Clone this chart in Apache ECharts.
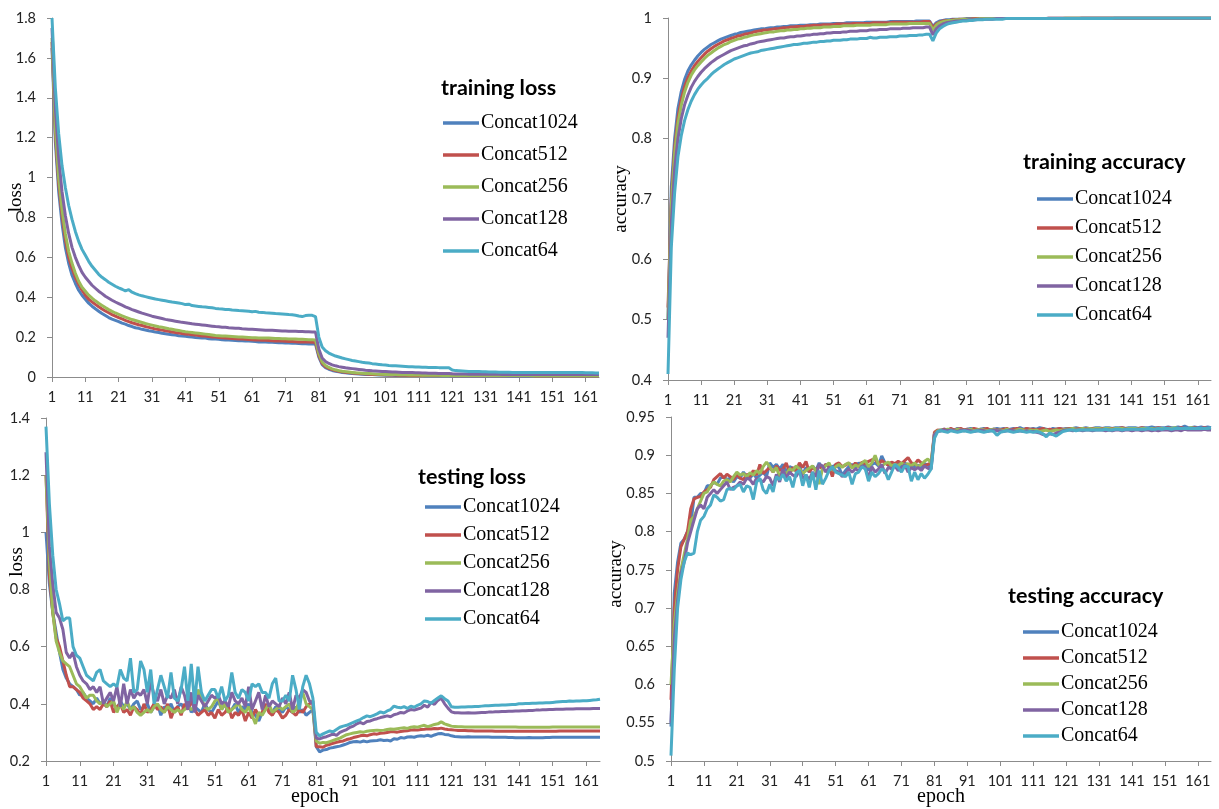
<!DOCTYPE html>
<html>
<head>
<meta charset="utf-8">
<script src="https://cdn.jsdelivr.net/npm/echarts@6/dist/echarts.min.js"></script>
<style>
  html, body { margin: 0; padding: 0; background: #ffffff; }
  #chart { width: 1219px; height: 809px; }
</style>
</head>
<body>
<div id="chart"></div>
<script>
// Epoch categories 1..165 shared by all four panels
const epochs = Array.from({ length: 165 }, (_, i) => String(i + 1));
const seriesNames = ['Concat1024', 'Concat512', 'Concat256', 'Concat128', 'Concat64'];
const panelTitles = ['training loss', 'training accuracy', 'testing loss', 'testing accuracy'];
const yAxisNames = ['loss', 'accuracy', 'loss', 'accuracy'];
const yRanges = [[0, 1.8, 0.2], [0.4, 1, 0.1], [0.2, 1.4, 0.2], [0.5, 0.95, 0.05]];

// ---- training loss ----
const trainLoss1024 = [
1.65,1.18,0.93,0.77,0.65,0.57,0.51,0.47,0.435,0.41,
0.39,0.37,0.355,0.342,0.33,0.318,0.308,0.298,0.29,0.284,
0.278,0.27,0.265,0.258,0.253,0.247,0.244,0.239,0.236,0.232,
0.229,0.225,0.223,0.219,0.217,0.214,0.212,0.21,0.207,0.206,
0.204,0.202,0.2,0.198,0.197,0.195,0.195,0.192,0.191,0.19,
0.189,0.187,0.186,0.186,0.184,0.183,0.182,0.182,0.18,0.18,
0.179,0.178,0.176,0.177,0.175,0.174,0.174,0.173,0.172,0.172,
0.171,0.17,0.169,0.169,0.168,0.167,0.167,0.166,0.165,0.165,
0.1,0.062,0.047,0.039,0.033,0.029,0.026,0.023,0.021,0.019,
0.018,0.016,0.015,0.014,0.013,0.012,0.012,0.011,0.01,0.01,
0.009,0.009,0.009,0.008,0.008,0.008,0.008,0.007,0.007,0.007,
0.007,0.007,0.006,0.006,0.006,0.006,0.006,0.006,0.006,0.006,
0.005,0.005,0.005,0.005,0.005,0.005,0.005,0.005,0.005,0.005,
0.005,0.005,0.005,0.005,0.005,0.005,0.005,0.004,0.004,0.004,
0.004,0.004,0.004,0.004,0.004,0.004,0.004,0.004,0.004,0.004,
0.004,0.004,0.004,0.004,0.004,0.004,0.004,0.004,0.004,0.004,
0.004,0.004,0.004,0.004,0.004];
const trainLoss512 = [
1.68,1.22,0.97,0.81,0.69,0.6,0.545,0.5,0.465,0.435,
0.41,0.39,0.377,0.364,0.352,0.341,0.331,0.322,0.313,0.305,
0.298,0.291,0.284,0.278,0.272,0.267,0.262,0.258,0.253,0.249,
0.245,0.241,0.238,0.235,0.232,0.229,0.226,0.223,0.221,0.218,
0.216,0.214,0.212,0.21,0.208,0.206,0.205,0.203,0.201,0.2,
0.198,0.197,0.196,0.194,0.193,0.192,0.191,0.19,0.189,0.188,
0.187,0.186,0.185,0.184,0.184,0.183,0.182,0.181,0.18,0.18,
0.179,0.178,0.178,0.177,0.176,0.176,0.175,0.175,0.174,0.174,
0.108,0.068,0.052,0.043,0.037,0.032,0.029,0.026,0.024,0.022,
0.02,0.019,0.017,0.016,0.015,0.014,0.013,0.013,0.012,0.011,
0.011,0.01,0.01,0.01,0.009,0.009,0.009,0.008,0.008,0.008,
0.008,0.008,0.007,0.007,0.007,0.007,0.007,0.007,0.007,0.007,
0.006,0.006,0.006,0.006,0.006,0.006,0.006,0.006,0.006,0.006,
0.006,0.006,0.006,0.006,0.006,0.006,0.006,0.006,0.006,0.006,
0.006,0.006,0.006,0.006,0.006,0.005,0.005,0.005,0.005,0.005,
0.005,0.005,0.005,0.005,0.005,0.005,0.005,0.005,0.005,0.005,
0.005,0.005,0.005,0.005,0.005];
const trainLoss256 = [
1.7,1.25,1.0,0.84,0.72,0.63,0.57,0.52,0.48,0.45,
0.43,0.41,0.395,0.382,0.37,0.359,0.348,0.338,0.329,0.321,
0.314,0.307,0.3,0.294,0.288,0.283,0.278,0.273,0.268,0.264,
0.26,0.256,0.252,0.249,0.246,0.242,0.239,0.236,0.233,0.23,
0.227,0.225,0.223,0.221,0.219,0.217,0.215,0.213,0.211,0.208,
0.207,0.206,0.205,0.204,0.203,0.202,0.201,0.2,0.199,0.198,
0.197,0.197,0.196,0.196,0.195,0.195,0.194,0.193,0.193,0.192,
0.192,0.191,0.19,0.19,0.189,0.189,0.188,0.187,0.187,0.186,
0.118,0.075,0.058,0.048,0.041,0.036,0.032,0.029,0.027,0.025,
0.023,0.021,0.02,0.019,0.018,0.017,0.016,0.015,0.014,0.014,
0.013,0.013,0.012,0.012,0.011,0.011,0.011,0.01,0.01,0.01,
0.01,0.009,0.009,0.009,0.009,0.009,0.009,0.008,0.008,0.008,
0.007,0.007,0.007,0.007,0.007,0.007,0.007,0.007,0.007,0.007,
0.007,0.007,0.007,0.007,0.007,0.007,0.007,0.007,0.007,0.007,
0.007,0.007,0.007,0.007,0.006,0.006,0.006,0.006,0.006,0.006,
0.006,0.006,0.006,0.006,0.006,0.006,0.006,0.006,0.006,0.006,
0.006,0.006,0.006,0.006,0.006];
const trainLoss128 = [
1.75,1.35,1.1,0.93,0.81,0.72,0.65,0.6,0.56,0.525,
0.5,0.48,0.46,0.445,0.43,0.418,0.405,0.395,0.385,0.376,
0.368,0.36,0.352,0.345,0.338,0.332,0.326,0.32,0.315,0.31,
0.305,0.301,0.297,0.293,0.289,0.286,0.283,0.28,0.277,0.274,
0.272,0.27,0.267,0.265,0.263,0.261,0.259,0.257,0.255,0.253,
0.252,0.25,0.249,0.247,0.246,0.245,0.244,0.242,0.241,0.24,
0.239,0.238,0.237,0.236,0.235,0.234,0.234,0.233,0.232,0.231,
0.231,0.23,0.229,0.229,0.228,0.228,0.227,0.227,0.226,0.226,
0.14,0.095,0.078,0.068,0.061,0.056,0.052,0.049,0.046,0.044,
0.042,0.04,0.038,0.036,0.034,0.033,0.031,0.03,0.029,0.028,
0.027,0.026,0.025,0.025,0.024,0.023,0.023,0.022,0.022,0.021,
0.021,0.02,0.02,0.019,0.019,0.019,0.018,0.018,0.018,0.018,
0.016,0.015,0.015,0.015,0.015,0.014,0.014,0.014,0.014,0.014,
0.014,0.014,0.014,0.014,0.014,0.013,0.013,0.013,0.013,0.013,
0.013,0.013,0.013,0.013,0.013,0.013,0.013,0.013,0.013,0.013,
0.013,0.013,0.012,0.012,0.012,0.012,0.012,0.012,0.012,0.012,
0.012,0.012,0.012,0.012,0.012];
const trainLoss64 = [
1.8,1.45,1.22,1.06,0.95,0.86,0.79,0.73,0.68,0.64,
0.61,0.58,0.555,0.535,0.515,0.5,0.488,0.475,0.465,0.455,
0.447,0.44,0.432,0.438,0.425,0.418,0.412,0.407,0.403,0.399,
0.395,0.391,0.388,0.385,0.382,0.379,0.376,0.374,0.371,0.368,
0.363,0.365,0.358,0.356,0.354,0.352,0.351,0.349,0.347,0.344,
0.342,0.341,0.339,0.338,0.336,0.335,0.333,0.332,0.331,0.33,
0.327,0.329,0.325,0.324,0.322,0.321,0.32,0.318,0.317,0.316,
0.315,0.313,0.312,0.31,0.306,0.303,0.308,0.31,0.309,0.303,
0.2,0.15,0.132,0.12,0.112,0.105,0.1,0.095,0.091,0.087,
0.083,0.08,0.077,0.074,0.072,0.07,0.067,0.065,0.063,0.061,
0.06,0.058,0.057,0.056,0.055,0.054,0.053,0.052,0.051,0.05,
0.05,0.049,0.049,0.048,0.048,0.048,0.047,0.047,0.047,0.046,
0.035,0.032,0.031,0.03,0.029,0.028,0.028,0.027,0.027,0.026,
0.026,0.025,0.025,0.025,0.024,0.024,0.024,0.024,0.023,0.023,
0.023,0.023,0.023,0.023,0.023,0.022,0.022,0.022,0.022,0.022,
0.022,0.022,0.022,0.022,0.022,0.022,0.022,0.022,0.022,0.022,
0.021,0.021,0.021,0.02,0.02];

// ---- training accuracy ----
const trainAcc1024 = [
0.5,0.72,0.8,0.85,0.878,0.898,0.912,0.922,0.93,0.937,
0.943,0.948,0.952,0.956,0.959,0.962,0.965,0.967,0.969,0.971,
0.973,0.974,0.976,0.977,0.978,0.979,0.98,0.981,0.982,0.982,
0.983,0.984,0.984,0.985,0.985,0.986,0.986,0.987,0.987,0.987,
0.988,0.988,0.988,0.989,0.989,0.989,0.99,0.99,0.99,0.99,
0.991,0.991,0.991,0.991,0.992,0.992,0.992,0.992,0.992,0.992,
0.993,0.993,0.993,0.993,0.993,0.993,0.993,0.994,0.994,0.994,
0.994,0.994,0.994,0.994,0.994,0.995,0.995,0.995,0.995,0.995,
0.986,0.992,0.995,0.996,0.997,0.997,0.998,0.998,0.998,0.998,
0.999,0.999,0.999,0.999,0.999,0.999,0.999,0.999,0.999,0.999,
0.999,0.999,0.999,0.999,0.999,0.999,0.999,0.999,0.999,0.999,
0.999,0.999,0.999,0.999,0.999,1,1,1,1,1,
1,1,1,1,1,1,1,1,1,1,
1,1,1,1,1,1,1,1,1,1,
1,1,1,1,1,1,1,1,1,1,
1,1,1,1,1,1,1,1,1,1,
1,1,1,1,1];
const trainAcc512 = [
0.52,0.7,0.785,0.835,0.865,0.886,0.901,0.912,0.921,0.928,
0.934,0.94,0.945,0.949,0.953,0.956,0.959,0.962,0.964,0.966,
0.968,0.97,0.971,0.973,0.974,0.975,0.977,0.978,0.979,0.98,
0.98,0.981,0.982,0.982,0.983,0.984,0.984,0.985,0.985,0.986,
0.986,0.986,0.987,0.987,0.988,0.988,0.988,0.989,0.989,0.989,
0.989,0.99,0.99,0.99,0.99,0.99,0.991,0.991,0.991,0.991,
0.991,0.991,0.992,0.992,0.992,0.992,0.992,0.992,0.993,0.993,
0.993,0.993,0.993,0.993,0.993,0.993,0.993,0.994,0.994,0.994,
0.984,0.99,0.993,0.995,0.996,0.996,0.997,0.997,0.998,0.998,
0.998,0.998,0.999,0.999,0.999,0.999,0.999,0.999,0.999,0.999,
0.999,0.999,0.999,0.999,0.999,0.999,0.999,0.999,0.999,0.999,
0.999,0.999,0.999,0.999,0.999,1,1,1,1,1,
1,1,1,1,1,1,1,1,1,1,
1,1,1,1,1,1,1,1,1,1,
1,1,1,1,1,1,1,1,1,1,
1,1,1,1,1,1,1,1,1,1,
1,1,1,1,1];
const trainAcc256 = [
0.5,0.69,0.775,0.825,0.855,0.877,0.893,0.905,0.914,0.921,
0.927,0.933,0.938,0.942,0.946,0.95,0.953,0.956,0.958,0.961,
0.963,0.965,0.966,0.968,0.969,0.971,0.972,0.973,0.974,0.975,
0.976,0.977,0.977,0.978,0.979,0.979,0.98,0.98,0.981,0.981,
0.982,0.982,0.983,0.983,0.984,0.984,0.984,0.985,0.985,0.985,
0.986,0.986,0.986,0.987,0.987,0.987,0.987,0.988,0.988,0.988,
0.988,0.988,0.989,0.989,0.989,0.989,0.989,0.99,0.99,0.99,
0.99,0.99,0.99,0.991,0.991,0.991,0.991,0.991,0.991,0.991,
0.98,0.988,0.992,0.994,0.995,0.996,0.996,0.997,0.997,0.998,
0.998,0.998,0.998,0.998,0.999,0.999,0.999,0.999,0.999,0.999,
0.999,0.999,0.999,0.999,0.999,0.999,0.999,0.999,0.999,0.999,
0.999,0.999,0.999,0.999,0.999,0.999,0.999,0.999,0.999,0.999,
1,1,1,1,1,1,1,1,1,1,
1,1,1,1,1,1,1,1,1,1,
1,1,1,1,1,1,1,1,1,1,
1,1,1,1,1,1,1,1,1,1,
1,1,1,1,1];
const trainAcc128 = [
0.47,0.66,0.75,0.8,0.833,0.856,0.872,0.885,0.895,0.903,
0.91,0.916,0.921,0.926,0.93,0.934,0.937,0.94,0.943,0.946,
0.948,0.95,0.952,0.954,0.955,0.957,0.958,0.96,0.961,0.962,
0.963,0.964,0.965,0.966,0.967,0.967,0.968,0.969,0.969,0.97,
0.97,0.971,0.972,0.972,0.973,0.973,0.974,0.974,0.975,0.975,
0.976,0.976,0.976,0.977,0.977,0.978,0.978,0.978,0.979,0.979,
0.979,0.98,0.98,0.98,0.981,0.981,0.981,0.982,0.982,0.982,
0.982,0.983,0.983,0.983,0.984,0.984,0.984,0.984,0.985,0.985,
0.972,0.982,0.987,0.99,0.992,0.993,0.994,0.995,0.995,0.996,
0.996,0.997,0.997,0.997,0.998,0.998,0.998,0.998,0.998,0.999,
0.999,0.999,0.999,0.999,0.999,0.999,0.999,0.999,0.999,0.999,
0.999,0.999,0.999,0.999,0.999,0.999,0.999,0.999,0.999,0.999,
0.999,0.999,0.999,0.999,0.999,1,1,1,1,1,
1,1,1,1,1,1,1,1,1,1,
1,1,1,1,1,1,1,1,1,1,
1,1,1,1,1,1,1,1,1,1,
1,1,1,1,1];
const trainAcc64 = [
0.41,0.62,0.71,0.77,0.805,0.83,0.848,0.862,0.873,0.882,
0.889,0.895,0.9,0.906,0.911,0.915,0.919,0.923,0.926,0.929,
0.932,0.934,0.936,0.938,0.94,0.942,0.943,0.944,0.946,0.947,
0.948,0.949,0.95,0.951,0.952,0.953,0.954,0.955,0.956,0.956,
0.957,0.958,0.958,0.959,0.96,0.96,0.961,0.961,0.962,0.962,
0.963,0.963,0.963,0.964,0.964,0.965,0.965,0.965,0.966,0.966,
0.966,0.968,0.967,0.967,0.968,0.968,0.968,0.969,0.969,0.969,
0.97,0.97,0.97,0.971,0.971,0.971,0.972,0.972,0.973,0.973,
0.962,0.975,0.982,0.986,0.989,0.991,0.992,0.993,0.994,0.995,
0.995,0.996,0.996,0.997,0.997,0.997,0.998,0.998,0.998,0.998,
0.998,0.998,0.999,0.999,0.999,0.999,0.999,0.999,0.999,0.999,
0.999,0.999,0.999,0.999,0.999,0.999,0.999,0.999,0.999,0.999,
0.999,0.999,0.999,0.999,0.999,0.999,0.999,0.999,0.999,0.999,
0.999,0.999,0.999,0.999,0.999,1,1,1,1,1,
1,1,1,1,1,1,1,1,1,1,
1,1,1,1,1,1,1,1,1,1,
1,1,1,1,1];

// ---- testing loss ----
const testLoss1024 = [
1.0,0.82,0.72,0.65,0.58,0.52,0.49,0.47,0.46,0.45,
0.43,0.44,0.42,0.41,0.4,0.42,0.4,0.41,0.39,0.42,
0.4,0.38,0.41,0.39,0.4,0.38,0.4,0.41,0.38,0.39,
0.4,0.37,0.39,0.4,0.36,0.39,0.38,0.4,0.37,0.39,
0.4,0.38,0.41,0.37,0.39,0.38,0.37,0.4,0.38,0.37,
0.39,0.41,0.38,0.4,0.37,0.38,0.4,0.37,0.39,0.38,
0.4,0.37,0.36,0.34,0.37,0.39,0.38,0.37,0.39,0.38,
0.37,0.39,0.38,0.37,0.39,0.37,0.38,0.36,0.37,0.38,
0.25,0.232,0.238,0.24,0.245,0.247,0.25,0.252,0.256,0.26,
0.265,0.267,0.268,0.266,0.27,0.267,0.27,0.271,0.272,0.274,
0.272,0.273,0.27,0.278,0.276,0.282,0.28,0.284,0.285,0.283,
0.287,0.288,0.287,0.29,0.286,0.291,0.295,0.296,0.293,0.292,
0.288,0.286,0.285,0.284,0.284,0.285,0.284,0.284,0.284,0.284,
0.284,0.284,0.283,0.283,0.283,0.283,0.283,0.282,0.282,0.281,
0.281,0.281,0.281,0.282,0.281,0.281,0.281,0.281,0.282,0.282,
0.283,0.283,0.283,0.283,0.283,0.283,0.283,0.283,0.283,0.283,
0.283,0.283,0.283,0.283,0.283];
const testLoss512 = [
1.2,0.85,0.72,0.63,0.6,0.55,0.5,0.46,0.46,0.45,
0.44,0.42,0.41,0.4,0.38,0.39,0.38,0.4,0.39,0.41,
0.37,0.39,0.4,0.37,0.38,0.36,0.39,0.38,0.36,0.4,
0.37,0.38,0.4,0.38,0.39,0.37,0.4,0.35,0.38,0.39,
0.36,0.4,0.38,0.41,0.38,0.36,0.37,0.38,0.36,0.37,
0.35,0.38,0.36,0.37,0.39,0.35,0.37,0.36,0.38,0.34,
0.37,0.35,0.38,0.36,0.37,0.4,0.37,0.36,0.38,0.37,
0.35,0.36,0.38,0.37,0.36,0.38,0.37,0.39,0.4,0.41,
0.25,0.25,0.248,0.255,0.258,0.262,0.265,0.268,0.27,0.275,
0.278,0.282,0.285,0.288,0.29,0.288,0.292,0.295,0.294,0.297,
0.298,0.3,0.302,0.302,0.301,0.303,0.305,0.306,0.308,0.309,
0.308,0.31,0.311,0.313,0.312,0.314,0.313,0.315,0.312,0.31,
0.309,0.308,0.307,0.307,0.307,0.306,0.306,0.305,0.305,0.305,
0.305,0.305,0.305,0.304,0.304,0.304,0.304,0.304,0.304,0.304,
0.304,0.304,0.304,0.304,0.304,0.304,0.304,0.304,0.304,0.304,
0.304,0.304,0.305,0.305,0.305,0.305,0.305,0.305,0.305,0.305,
0.305,0.305,0.305,0.305,0.305];
const testLoss256 = [
1.2,0.9,0.72,0.62,0.58,0.55,0.54,0.53,0.5,0.47,
0.46,0.44,0.42,0.43,0.43,0.41,0.4,0.41,0.39,0.4,
0.41,0.37,0.4,0.38,0.41,0.38,0.39,0.37,0.36,0.37,
0.38,0.37,0.39,0.4,0.38,0.37,0.39,0.38,0.37,0.38,
0.37,0.38,0.39,0.38,0.39,0.45,0.42,0.39,0.38,0.39,
0.41,0.42,0.38,0.4,0.37,0.38,0.39,0.4,0.38,0.37,
0.39,0.36,0.33,0.37,0.36,0.38,0.4,0.37,0.38,0.39,
0.38,0.39,0.4,0.37,0.38,0.41,0.44,0.4,0.39,0.38,
0.27,0.262,0.265,0.264,0.268,0.272,0.276,0.28,0.286,0.292,
0.295,0.298,0.3,0.302,0.301,0.304,0.306,0.307,0.308,0.307,
0.308,0.31,0.312,0.311,0.313,0.315,0.316,0.314,0.318,0.32,
0.318,0.322,0.325,0.32,0.324,0.328,0.33,0.337,0.33,0.326,
0.322,0.321,0.32,0.32,0.319,0.319,0.319,0.319,0.319,0.319,
0.319,0.319,0.319,0.319,0.319,0.319,0.319,0.319,0.319,0.319,
0.318,0.318,0.318,0.318,0.318,0.318,0.318,0.318,0.318,0.318,
0.319,0.319,0.319,0.319,0.319,0.319,0.319,0.319,0.319,0.319,
0.319,0.319,0.319,0.319,0.319];
const testLoss128 = [
1.28,0.95,0.82,0.72,0.7,0.66,0.58,0.56,0.58,0.53,
0.5,0.48,0.47,0.45,0.46,0.44,0.46,0.4,0.42,0.44,
0.41,0.46,0.39,0.47,0.4,0.45,0.42,0.44,0.43,0.45,
0.4,0.48,0.43,0.41,0.45,0.4,0.43,0.42,0.45,0.4,
0.46,0.43,0.38,0.44,0.37,0.43,0.41,0.39,0.41,0.43,
0.42,0.43,0.4,0.41,0.39,0.44,0.41,0.4,0.42,0.39,
0.46,0.38,0.41,0.44,0.38,0.43,0.39,0.41,0.4,0.39,
0.42,0.4,0.44,0.38,0.43,0.42,0.45,0.44,0.41,0.4,
0.28,0.277,0.282,0.285,0.29,0.295,0.29,0.3,0.305,0.31,
0.318,0.322,0.33,0.335,0.33,0.338,0.34,0.345,0.348,0.352,
0.355,0.358,0.355,0.362,0.365,0.37,0.368,0.375,0.38,0.378,
0.382,0.385,0.395,0.388,0.405,0.398,0.412,0.42,0.4,0.385,
0.372,0.369,0.369,0.368,0.368,0.369,0.368,0.368,0.369,0.37,
0.37,0.371,0.371,0.372,0.372,0.373,0.373,0.374,0.374,0.375,
0.375,0.376,0.376,0.377,0.377,0.378,0.378,0.379,0.379,0.38,
0.38,0.381,0.381,0.381,0.382,0.382,0.382,0.383,0.383,0.383,
0.383,0.383,0.384,0.384,0.384];
const testLoss64 = [
1.37,1.1,0.92,0.8,0.75,0.69,0.7,0.7,0.6,0.57,
0.56,0.53,0.5,0.49,0.48,0.51,0.52,0.48,0.47,0.46,
0.47,0.46,0.52,0.49,0.48,0.56,0.44,0.45,0.55,0.52,
0.44,0.52,0.4,0.45,0.5,0.46,0.42,0.51,0.42,0.41,
0.45,0.53,0.41,0.54,0.4,0.53,0.44,0.41,0.43,0.45,
0.45,0.42,0.46,0.41,0.43,0.51,0.44,0.42,0.45,0.44,
0.41,0.47,0.46,0.47,0.44,0.44,0.42,0.47,0.49,0.41,
0.41,0.43,0.41,0.5,0.45,0.38,0.46,0.5,0.47,0.42,
0.3,0.288,0.295,0.3,0.305,0.302,0.31,0.318,0.322,0.325,
0.33,0.335,0.34,0.345,0.352,0.358,0.355,0.36,0.365,0.372,
0.368,0.375,0.38,0.392,0.388,0.386,0.39,0.384,0.392,0.388,
0.395,0.4,0.41,0.408,0.402,0.412,0.42,0.428,0.418,0.41,
0.39,0.388,0.388,0.389,0.389,0.39,0.39,0.391,0.391,0.392,
0.393,0.393,0.394,0.395,0.395,0.396,0.396,0.397,0.398,0.398,
0.4,0.4,0.401,0.401,0.402,0.402,0.403,0.403,0.404,0.404,
0.405,0.406,0.407,0.408,0.408,0.41,0.409,0.41,0.41,0.411,
0.411,0.412,0.413,0.414,0.416];

// ---- testing accuracy ----
const testAcc1024 = [
0.545,0.72,0.76,0.785,0.79,0.8,0.81,0.845,0.845,0.85,
0.85,0.86,0.86,0.865,0.862,0.87,0.872,0.868,0.87,0.865,
0.872,0.87,0.878,0.872,0.87,0.876,0.87,0.874,0.878,0.872,
0.89,0.884,0.888,0.882,0.888,0.878,0.885,0.883,0.88,0.886,
0.875,0.884,0.878,0.886,0.88,0.89,0.882,0.888,0.886,0.885,
0.887,0.884,0.874,0.88,0.885,0.888,0.884,0.89,0.886,0.889,
0.88,0.888,0.89,0.886,0.899,0.89,0.887,0.885,0.888,0.89,
0.884,0.89,0.886,0.888,0.885,0.887,0.884,0.889,0.887,0.885,
0.928,0.932,0.933,0.934,0.933,0.934,0.933,0.935,0.934,0.933,
0.934,0.935,0.934,0.933,0.934,0.935,0.934,0.933,0.934,0.935,
0.934,0.935,0.933,0.934,0.935,0.934,0.936,0.934,0.935,0.934,
0.935,0.934,0.936,0.935,0.934,0.933,0.935,0.934,0.935,0.934,
0.935,0.935,0.935,0.936,0.935,0.935,0.936,0.935,0.935,0.936,
0.936,0.935,0.936,0.936,0.935,0.936,0.936,0.936,0.935,0.936,
0.936,0.936,0.935,0.936,0.936,0.936,0.937,0.936,0.936,0.936,
0.936,0.937,0.936,0.936,0.937,0.936,0.938,0.936,0.936,0.937,
0.936,0.937,0.936,0.937,0.936];
const testAcc512 = [
0.58,0.7,0.75,0.78,0.79,0.8,0.83,0.843,0.845,0.846,
0.852,0.855,0.858,0.868,0.872,0.876,0.87,0.875,0.872,0.868,
0.875,0.87,0.868,0.875,0.872,0.88,0.874,0.888,0.876,0.88,
0.884,0.878,0.886,0.88,0.882,0.89,0.877,0.884,0.879,0.89,
0.884,0.892,0.878,0.884,0.88,0.886,0.882,0.888,0.885,0.872,
0.888,0.89,0.885,0.887,0.89,0.884,0.89,0.885,0.891,0.889,
0.892,0.894,0.895,0.888,0.893,0.89,0.887,0.891,0.889,0.892,
0.889,0.893,0.897,0.89,0.888,0.894,0.89,0.886,0.888,0.89,
0.93,0.933,0.932,0.934,0.933,0.935,0.933,0.934,0.935,0.933,
0.934,0.933,0.935,0.934,0.933,0.934,0.935,0.933,0.934,0.933,
0.933,0.934,0.935,0.933,0.934,0.935,0.934,0.933,0.935,0.934,
0.934,0.933,0.934,0.935,0.933,0.934,0.933,0.934,0.935,0.934,
0.934,0.935,0.935,0.934,0.935,0.935,0.935,0.934,0.935,0.935,
0.935,0.935,0.934,0.935,0.935,0.935,0.935,0.936,0.935,0.935,
0.935,0.935,0.935,0.936,0.935,0.935,0.935,0.935,0.936,0.935,
0.935,0.936,0.935,0.935,0.935,0.936,0.935,0.935,0.935,0.936,
0.935,0.935,0.936,0.935,0.935];
const testAcc256 = [
0.6,0.68,0.72,0.75,0.77,0.79,0.815,0.82,0.83,0.84,
0.85,0.852,0.86,0.865,0.862,0.86,0.866,0.868,0.865,0.872,
0.878,0.874,0.876,0.872,0.877,0.874,0.88,0.876,0.885,0.891,
0.885,0.878,0.884,0.872,0.88,0.875,0.882,0.88,0.886,0.882,
0.876,0.88,0.883,0.886,0.88,0.862,0.882,0.886,0.89,0.88,
0.885,0.888,0.884,0.888,0.89,0.883,0.887,0.885,0.89,0.893,
0.885,0.89,0.9,0.888,0.886,0.889,0.891,0.886,0.888,0.886,
0.89,0.887,0.889,0.886,0.89,0.885,0.888,0.892,0.895,0.89,
0.927,0.932,0.933,0.932,0.934,0.933,0.932,0.934,0.933,0.932,
0.933,0.934,0.932,0.933,0.934,0.933,0.932,0.933,0.934,0.932,
0.933,0.932,0.934,0.933,0.932,0.933,0.934,0.933,0.932,0.933,
0.932,0.933,0.931,0.932,0.933,0.931,0.932,0.933,0.932,0.933,
0.934,0.934,0.935,0.934,0.934,0.935,0.934,0.935,0.934,0.935,
0.935,0.934,0.935,0.935,0.934,0.935,0.935,0.935,0.934,0.935,
0.935,0.935,0.934,0.935,0.935,0.935,0.935,0.934,0.935,0.935,
0.935,0.935,0.935,0.936,0.935,0.935,0.935,0.935,0.936,0.935,
0.935,0.935,0.935,0.935,0.935];
const testAcc128 = [
0.55,0.66,0.71,0.745,0.76,0.785,0.8,0.815,0.83,0.835,
0.83,0.845,0.85,0.855,0.85,0.855,0.86,0.865,0.855,0.858,
0.86,0.865,0.862,0.87,0.868,0.862,0.87,0.868,0.865,0.872,
0.87,0.86,0.875,0.865,0.882,0.87,0.878,0.874,0.872,0.88,
0.87,0.874,0.868,0.878,0.872,0.888,0.886,0.878,0.884,0.882,
0.88,0.878,0.872,0.876,0.882,0.878,0.882,0.88,0.886,0.884,
0.87,0.885,0.878,0.882,0.888,0.876,0.884,0.882,0.886,0.88,
0.883,0.888,0.878,0.884,0.881,0.884,0.88,0.886,0.883,0.882,
0.927,0.931,0.932,0.933,0.932,0.933,0.932,0.931,0.933,0.932,
0.933,0.932,0.931,0.932,0.933,0.932,0.931,0.932,0.933,0.932,
0.932,0.931,0.932,0.933,0.932,0.931,0.932,0.931,0.932,0.931,
0.931,0.93,0.929,0.927,0.926,0.928,0.927,0.929,0.93,0.932,
0.933,0.933,0.932,0.933,0.933,0.932,0.933,0.933,0.932,0.933,
0.933,0.933,0.932,0.933,0.932,0.933,0.933,0.932,0.933,0.933,
0.932,0.933,0.933,0.932,0.933,0.933,0.932,0.933,0.932,0.933,
0.933,0.933,0.932,0.933,0.933,0.932,0.934,0.933,0.933,0.933,
0.933,0.933,0.934,0.933,0.933];
const testAcc64 = [
0.507,0.62,0.7,0.737,0.76,0.772,0.77,0.772,0.8,0.815,
0.82,0.83,0.835,0.848,0.845,0.84,0.842,0.855,0.857,0.855,
0.86,0.862,0.852,0.86,0.858,0.842,0.865,0.87,0.855,0.85,
0.862,0.852,0.872,0.868,0.875,0.866,0.872,0.858,0.877,0.88,
0.86,0.875,0.858,0.878,0.855,0.88,0.862,0.87,0.88,0.885,
0.878,0.876,0.874,0.872,0.878,0.862,0.876,0.878,0.885,0.882,
0.866,0.878,0.872,0.876,0.882,0.879,0.868,0.878,0.888,0.884,
0.878,0.886,0.885,0.866,0.878,0.868,0.876,0.87,0.875,0.882,
0.922,0.931,0.932,0.931,0.93,0.932,0.931,0.93,0.931,0.932,
0.931,0.93,0.931,0.932,0.931,0.93,0.931,0.932,0.931,0.926,
0.93,0.931,0.932,0.931,0.93,0.931,0.932,0.931,0.93,0.931,
0.93,0.931,0.93,0.928,0.924,0.929,0.927,0.925,0.928,0.931,
0.932,0.933,0.933,0.932,0.933,0.933,0.933,0.933,0.933,0.933,
0.933,0.933,0.934,0.933,0.933,0.934,0.934,0.933,0.934,0.934,
0.934,0.934,0.934,0.934,0.934,0.935,0.934,0.934,0.935,0.934,
0.935,0.935,0.934,0.935,0.935,0.935,0.935,0.935,0.935,0.935,
0.935,0.935,0.935,0.935,0.936];

const panelSeries = [
  [trainLoss1024, trainLoss512, trainLoss256, trainLoss128, trainLoss64],
  [trainAcc1024, trainAcc512, trainAcc256, trainAcc128, trainAcc64],
  [testLoss1024, testLoss512, testLoss256, testLoss128, testLoss64],
  [testAcc1024, testAcc512, testAcc256, testAcc128, testAcc64]
];

// ---- layout and styling ----
const lineColors = ['#4F81BD', '#C0504D', '#9BBB59', '#8064A2', '#4BACC6'];
const axisGray = '#8c8c8c';
const tickFont = 'Lato, "Open Sans", sans-serif';
const serifFont = '"Liberation Serif", "DejaVu Serif", serif';

const gridBoxes = [
  { left: 52, top: 18, width: 547, height: 359 },
  { left: 668, top: 18, width: 543, height: 362 },
  { left: 46, top: 418, width: 554, height: 343 },
  { left: 671, top: 417, width: 540, height: 344 }
];
const titleBoxes = [
  { left: 441, top: 77 },
  { left: 1023, top: 151 },
  { left: 418, top: 466 },
  { left: 1008, top: 585 }
];
const legendBoxes = [
  { left: 443, top: 113, itemGap: 12 },
  { left: 1037, top: 189, itemGap: 9 },
  { left: 425, top: 497, itemGap: 8 },
  { left: 1023, top: 622, itemGap: 6 }
];
// y-axis title gap from the axis line, and the text padding that lifts the
// lower panels' titles above the middle of their axes
const yNameGaps = [26, 37, 19, 45];
const yNamePads = [0, 0, [0, 0, 0, 55], [0, 0, 0, 30]];

const fmt = v => String(Math.round(v * 100) / 100);

const option = {
  animation: false,
  backgroundColor: '#ffffff',
  color: lineColors,
  grid: gridBoxes.map(g => Object.assign({ containLabel: false, outerBoundsMode: 'none' }, g)),
  title: panelTitles.map((t, i) => ({
    text: t,
    left: titleBoxes[i].left,
    top: titleBoxes[i].top,
    padding: 0,
    textStyle: { fontFamily: tickFont, fontWeight: 'bold', fontSize: 21.5, color: '#000' }
  })),
  legend: legendBoxes.map(l => ({
    data: seriesNames,
    orient: 'vertical',
    left: l.left,
    top: l.top,
    padding: 0,
    itemGap: l.itemGap,
    itemWidth: 36,
    itemHeight: 3.5,
    icon: 'rect',
    selectedMode: false,
    textStyle: { fontFamily: serifFont, fontSize: 20, color: '#000', padding: [0, 0, 0, -3] }
  })),
  xAxis: gridBoxes.map((g, i) => ({
    type: 'category',
    gridIndex: i,
    data: epochs,
    boundaryGap: false,
    name: i >= 2 ? 'epoch' : '',
    nameLocation: 'middle',
    nameGap: 26,
    nameMoveOverlap: false,
    nameTextStyle: { fontFamily: serifFont, fontSize: 20, color: '#000', padding: i === 2 ? [0, 16, 0, 0] : 0 },
    axisLine: { lineStyle: { color: axisGray, width: 1 } },
    axisTick: { show: true, interval: 9, length: 5, lineStyle: { color: axisGray } },
    axisLabel: { interval: 9, margin: 13, fontFamily: tickFont, fontSize: 14.5, color: '#222' },
    splitLine: { show: false }
  })),
  yAxis: gridBoxes.map((g, i) => ({
    type: 'value',
    gridIndex: i,
    min: yRanges[i][0],
    max: yRanges[i][1],
    interval: yRanges[i][2],
    name: yAxisNames[i],
    nameLocation: 'middle',
    nameRotate: 90,
    nameGap: yNameGaps[i],
    nameMoveOverlap: false,
    nameTextStyle: { fontFamily: serifFont, fontSize: 19, color: '#000', padding: yNamePads[i] },
    axisLine: { show: true, lineStyle: { color: axisGray, width: 1 } },
    axisTick: { show: true, length: 5, lineStyle: { color: axisGray } },
    axisLabel: { margin: 16, fontFamily: tickFont, fontSize: 14.5, color: '#222', formatter: fmt },
    splitLine: { show: false }
  })),
  series: []
};

panelSeries.forEach((group, p) => {
  group.forEach((values, k) => {
    option.series.push({
      name: seriesNames[k],
      type: 'line',
      xAxisIndex: p,
      yAxisIndex: p,
      data: values,
      showSymbol: false,
      symbol: 'none',
      lineStyle: { width: 3, color: lineColors[k] },
      itemStyle: { color: lineColors[k] }
    });
  });
});

const chart = echarts.init(document.getElementById('chart'), null, { renderer: 'canvas' });
chart.setOption(option);
</script>
</body>
</html>
